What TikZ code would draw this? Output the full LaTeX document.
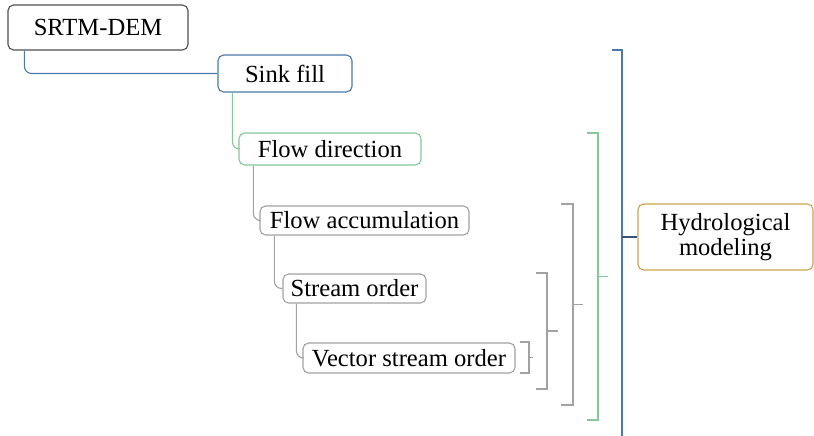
\documentclass[tikz,border=0pt]{standalone}
\usepackage{fontspec}
\setmainfont{Liberation Serif}
\definecolor{dembox}{HTML}{505050}
\definecolor{bluebox}{HTML}{4A7AAA}
\definecolor{greenbox}{HTML}{86C79C}
\definecolor{graybox}{HTML}{A2A2A2}
\definecolor{goldbox}{HTML}{C9A550}

\begin{document}
\begin{tikzpicture}[x=0.025cm, y=-0.025cm,
  box/.style={draw, rounded corners=4pt, line width=0.8pt, fill=white,
    inner sep=0pt, font=\fontsize{17.5}{18}\selectfont},
  link/.style={rounded corners=5pt, line width=0.8pt},
  brack/.style={line width=0.8pt, graybox}]
\useasboundingbox (0,0) rectangle (814,435);

\node[box, draw=dembox, minimum width=4.5cm, minimum height=1.125cm] (dem) at (98,27.5) {SRTM-DEM};
\node[box, draw=bluebox, minimum width=3.35cm, minimum height=0.925cm] (sink) at (285,73.5) {Sink fill};
\node[box, draw=greenbox, minimum width=4.55cm, minimum height=0.8cm] (dir) at (330,149) {Flow direction};
\node[box, draw=graybox, minimum width=5.225cm, minimum height=0.725cm] (acc) at (364.5,220.5) {Flow accumulation};
\node[box, draw=graybox, minimum width=3.575cm, minimum height=0.725cm] (order) at (354.5,288.5) {Stream order};
\node[box, draw=graybox, minimum width=5.3cm, minimum height=0.75cm] (vector) at (409,358) {Vector stream order};
\node[box, draw=goldbox, minimum width=4.375cm, minimum height=1.65cm, align=center] (hydro) at (725.5,237) {Hydrological\\modeling};

\draw[link, bluebox] ([xshift=0.425cm]dem.south west) |- (sink.west);
\draw[link, greenbox] ([xshift=0.375cm]sink.south west) |- (dir.west);
\draw[link, graybox] ([xshift=0.375cm]dir.south west) |- (acc.west);
\draw[link, graybox] ([xshift=0.375cm]acc.south west) |- (order.west);
\draw[link, graybox] ([xshift=0.35cm]order.south west) |- (vector.west);

\foreach \xl/\xb/\yt/\yb/\xm in {520/529/342/373/533, 536/547/273/389/558, 561/573/204/405/583}{
  \draw[brack] (\xl,\yt) -| (\xb,\yb) -- (\xl,\yb);
  \draw[brack] (\xb,{(\yt+\yb)/2}) -- (\xm,{(\yt+\yb)/2});
}
\draw[brack, greenbox] (587,133) -| (598,420) -- (587,420);
\draw[brack, greenbox] (598,276.5) -- (608,276.5);
\draw[line width=1.4pt, bluebox] (612,50) -| (622,440);
\draw[line width=1pt, bluebox!70!black] (622,237) -- (hydro.west);
\end{tikzpicture}
\end{document}
